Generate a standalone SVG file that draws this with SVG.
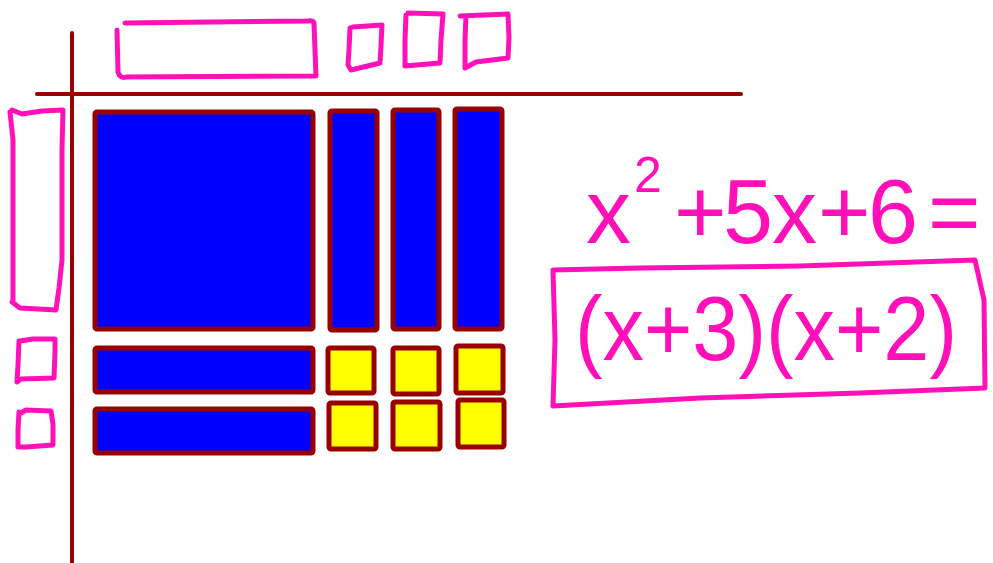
<svg xmlns="http://www.w3.org/2000/svg" width="993" height="563" viewBox="0 0 993 563">
<style>
.axis{stroke:#990000;stroke-width:4;stroke-linecap:round;fill:none}
.tile{stroke:#990000;stroke-width:5;stroke-linejoin:round}
.x2{fill:#0000ff}
.one{fill:#ffff00}
.pen{fill:none;stroke:#ff10b8;stroke-width:5;stroke-linejoin:round;stroke-linecap:round}
.hand{fill:#ff10b8;font-family:"Liberation Sans",Arial,sans-serif}
</style>
<rect width="993" height="563" fill="#ffffff"/>
<g id="axes">
<line class="axis" x1="72" y1="33" x2="72" y2="563"/>
<line class="axis" x1="37" y1="94" x2="741" y2="94"/>
</g>
<g id="top-factors">
<path class="pen" d="M117,30 L118,72 Q120,79 126,77 L316,76 L314,24 Q314,20 308,21 L125,23"/>
<path class="pen" d="M350,28 L349,50 L348,65 L351,70 L380,63 L381,46 L382,25 L353,27"/>
<path class="pen" d="M406,15 L405,40 L405,66 L440,63 L441,40 L443,14 L408,13"/>
<path class="pen" d="M466,16 L465,40 L465,68 L476,62 L508,58 L509,38 L508,14 L460,16"/>
</g>
<g id="left-factors">
<path class="pen" d="M10,112 L13,140 L13,300 L12,302 L20,308 L56,310 L59,288 L62,260 L62,180 L62,150 L63,110 L42,111 L22,114 L12,110"/>
<path class="pen" d="M19,341 L18,365 L17,382 L21,379 L54,378 L55,352 L55,339 L33,339 L20,341"/>
<path class="pen" d="M19,412 L18,430 L18,447 L26,447 L53,445 L53,424 L51,411 L26,410 L21,413"/>
</g>
<g id="tile-x2"><rect class="tile x2" x="95" y="112" width="218" height="217" rx="2"/></g>
<g id="tile-x-1"><rect class="tile x2" x="330" y="111" width="47" height="219" rx="2"/></g>
<g id="tile-x-2"><rect class="tile x2" x="393" y="110" width="46" height="219" rx="2"/></g>
<g id="tile-x-3"><rect class="tile x2" x="455" y="109" width="47" height="220" rx="2"/></g>
<g id="tile-x-4"><rect class="tile x2" x="95" y="348" width="218" height="44" rx="2"/></g>
<g id="tile-x-5"><rect class="tile x2" x="95" y="409" width="218" height="44" rx="2"/></g>
<g id="tile-1-1"><rect class="tile one" x="328" y="348" width="46" height="45" rx="2"/></g>
<g id="tile-1-2"><rect class="tile one" x="393" y="348" width="46" height="46" rx="2"/></g>
<g id="tile-1-3"><rect class="tile one" x="456" y="346" width="47" height="47" rx="2"/></g>
<g id="tile-1-4"><rect class="tile one" x="329" y="403" width="47" height="46" rx="2"/></g>
<g id="tile-1-5"><rect class="tile one" x="393" y="402" width="47" height="47" rx="2"/></g>
<g id="tile-1-6"><rect class="tile one" x="458" y="400" width="46" height="47" rx="2"/></g>
<g id="expression">
<text class="hand" font-size="90" y="243"><tspan x="586">x</tspan><tspan x="634" y="192" font-size="50">2</tspan><tspan x="674" y="243">+</tspan><tspan x="723">5</tspan><tspan x="772">x</tspan><tspan x="818">+</tspan><tspan x="868">6</tspan><tspan x="928">=</tspan></text>
</g>
<g id="answer">
<path class="pen" d="M553,270 L640,268 L800,266 L975,260 L984,300 L985,388 L860,393 L700,398 L553,406 L555,340 Z"/>
<text class="hand" font-size="90" x="575" y="360" textLength="382" lengthAdjust="spacingAndGlyphs">(x+3)(x+2)</text>
</g>
</svg>
